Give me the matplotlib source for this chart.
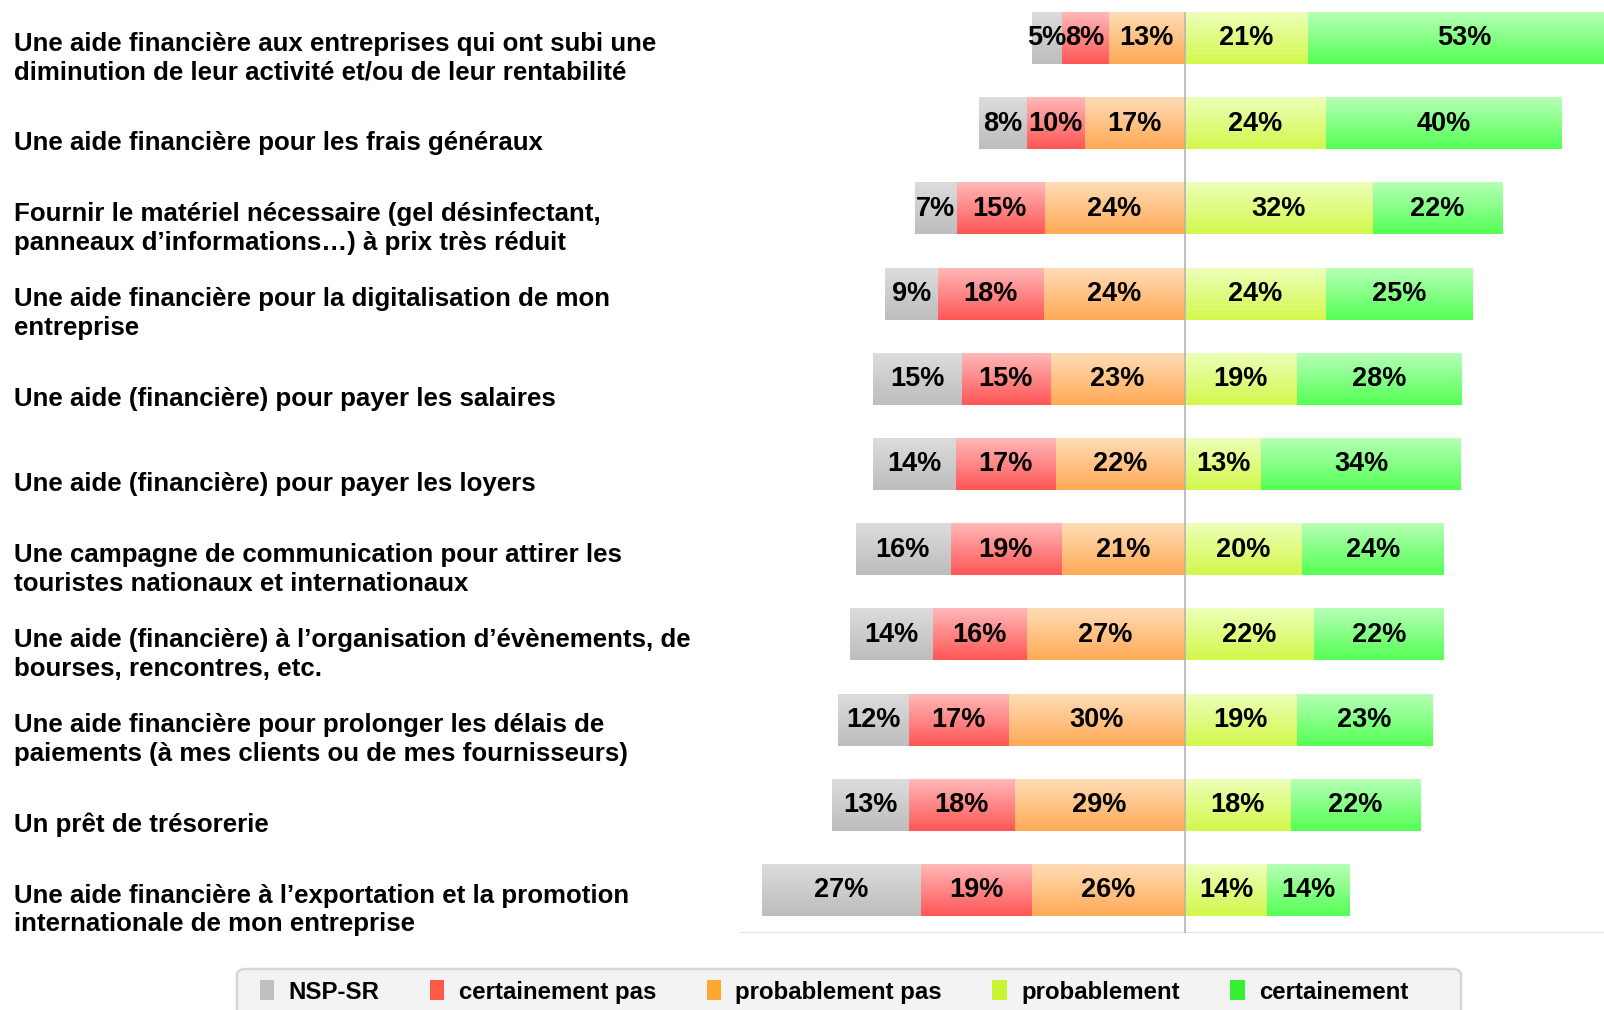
import matplotlib.pyplot as plt
import matplotlib.colors as mcolors
from matplotlib.patches import Patch, FancyBboxPatch
import numpy as np

plt.rcParams['font.family'] = ['Liberation Sans', 'DejaVu Sans']

labels = [
    "Une aide financière aux entreprises qui ont subi une\ndiminution de leur activité et/ou de leur rentabilité",
    "Une aide financière pour les frais généraux",
    "Fournir le matériel nécessaire (gel désinfectant,\npanneaux d\u2019informations\u2026) à prix très réduit",
    "Une aide financière pour la digitalisation de mon\nentreprise",
    "Une aide (financière) pour payer les salaires",
    "Une aide (financière) pour payer les loyers",
    "Une campagne de communication pour attirer les\ntouristes nationaux et internationaux",
    "Une aide (financière) à l\u2019organisation d\u2019évènements, de\nbourses, rencontres, etc.",
    "Une aide financière pour prolonger les délais de\npaiements (à mes clients ou de mes fournisseurs)",
    "Un prêt de trésorerie",
    "Une aide financière à l\u2019exportation et la promotion\ninternationale de mon entreprise",
]

nsp = [5, 8, 7, 9, 15, 14, 16, 14, 12, 13, 27]
cert_pas = [8, 10, 15, 18, 15, 17, 19, 16, 17, 18, 19]
prob_pas = [13, 17, 24, 24, 23, 22, 21, 27, 30, 29, 26]
prob = [21, 24, 32, 24, 19, 13, 20, 22, 19, 18, 14]
cert = [53, 40, 22, 25, 28, 34, 24, 22, 23, 22, 14]

series_names = ["NSP-SR", "certainement pas", "probablement pas", "probablement", "certainement"]
# (top, bottom) gradient colours for each series
grad = [("#dcdcdc", "#bdbdbd"),
        ("#ffb8b8", "#ff5656"),
        ("#ffdcb6", "#ffaa56"),
        ("#edffb8", "#d2f84c"),
        ("#b6ffb6", "#55ff55")]
legend_cols = ["#c0c0c0", "#ff5a46", "#ffa830", "#c8f532", "#33f033"]

fig = plt.figure(figsize=(16.04, 10.10), dpi=100)
ax = fig.add_axes([0.4613, 0.0762, 0.5387, 0.9238])

y = np.arange(len(labels))
h = 0.6


def gradient_bar(rects, cols):
    c0 = np.array(mcolors.to_rgb(cols[0]))
    c1 = np.array(mcolors.to_rgb(cols[1]))
    t = np.linspace(0, 1, 64)[:, None]
    img = (c0 * (1 - t) + c1 * t)[:, None, :]
    for r in rects:
        x0, yb, w, hh = r.get_x(), r.get_y(), r.get_width(), r.get_height()
        r.set_visible(False)
        ax.imshow(img, extent=(x0, x0 + w, yb + hh, yb), origin='upper',
                  aspect='auto', interpolation='bicubic', zorder=2)


# negative side: stacked from 0 leftwards
left = np.zeros(len(labels))
for vals, gi in [(prob_pas, 2), (cert_pas, 1), (nsp, 0)]:
    v = np.array(vals)
    rects = ax.barh(y, -v, left=left, height=h, color=grad[gi][1], linewidth=0)
    gradient_bar(rects, grad[gi])
    for yi, l, vi in zip(y, left, v):
        ax.text(l - vi / 2, yi, f"{vi}%", ha='center', va='center',
                fontsize=19.5, fontweight='bold', zorder=5)
    left = left - v

# positive side
left = np.zeros(len(labels))
for vals, gi in [(prob, 3), (cert, 4)]:
    v = np.array(vals)
    rects = ax.barh(y, v, left=left, height=h, color=grad[gi][1], linewidth=0)
    gradient_bar(rects, grad[gi])
    for yi, l, vi in zip(y, left, v):
        ax.text(l + vi / 2, yi, f"{vi}%", ha='center', va='center',
                fontsize=19.5, fontweight='bold', zorder=5)
    left = left + v

ax.plot([0, 0], [-0.3, 10.5], color="#b4b4b4", linewidth=1.2, zorder=3)
ax.axhline(10.5, color="#e2e2e2", linewidth=1.5, zorder=1)

ax.set_xlim(-75.7, 71.3)
ax.set_ylim(10.5, -0.45)
ax.axis('off')

for yi, lab in zip(y, labels):
    ax.annotate(lab, xy=(0, yi + 0.23), xycoords=('figure fraction', 'data'),
                xytext=(14, 0), textcoords='offset pixels',
                fontsize=18.6, fontweight='bold', va='center', ha='left',
                linespacing=1.25, annotation_clip=False)

# legend box (runs off the bottom edge like the original)
box = FancyBboxPatch((237 / 1604, -0.02), (1461 - 237) / 1604, 0.02 + (1010 - 969) / 1010,
                     boxstyle="round,pad=0,rounding_size=0.006", transform=fig.transFigure,
                     facecolor="#f3f3f3", edgecolor="#d6d6d6", linewidth=1.8)
fig.patches.append(box)

handles = [Patch(facecolor=c, edgecolor='none') for c in legend_cols]
leg = fig.legend(handles, series_names, loc='center', bbox_to_anchor=(0.520, 0.0178),
                 ncol=5, frameon=False, handlelength=0.6, handleheight=0.9,
                 handletextpad=0.6, columnspacing=2.1, borderpad=0, borderaxespad=0,
                 prop={'size': 17.3, 'weight': 'bold'})

fig.savefig("out.png", dpi=100)
